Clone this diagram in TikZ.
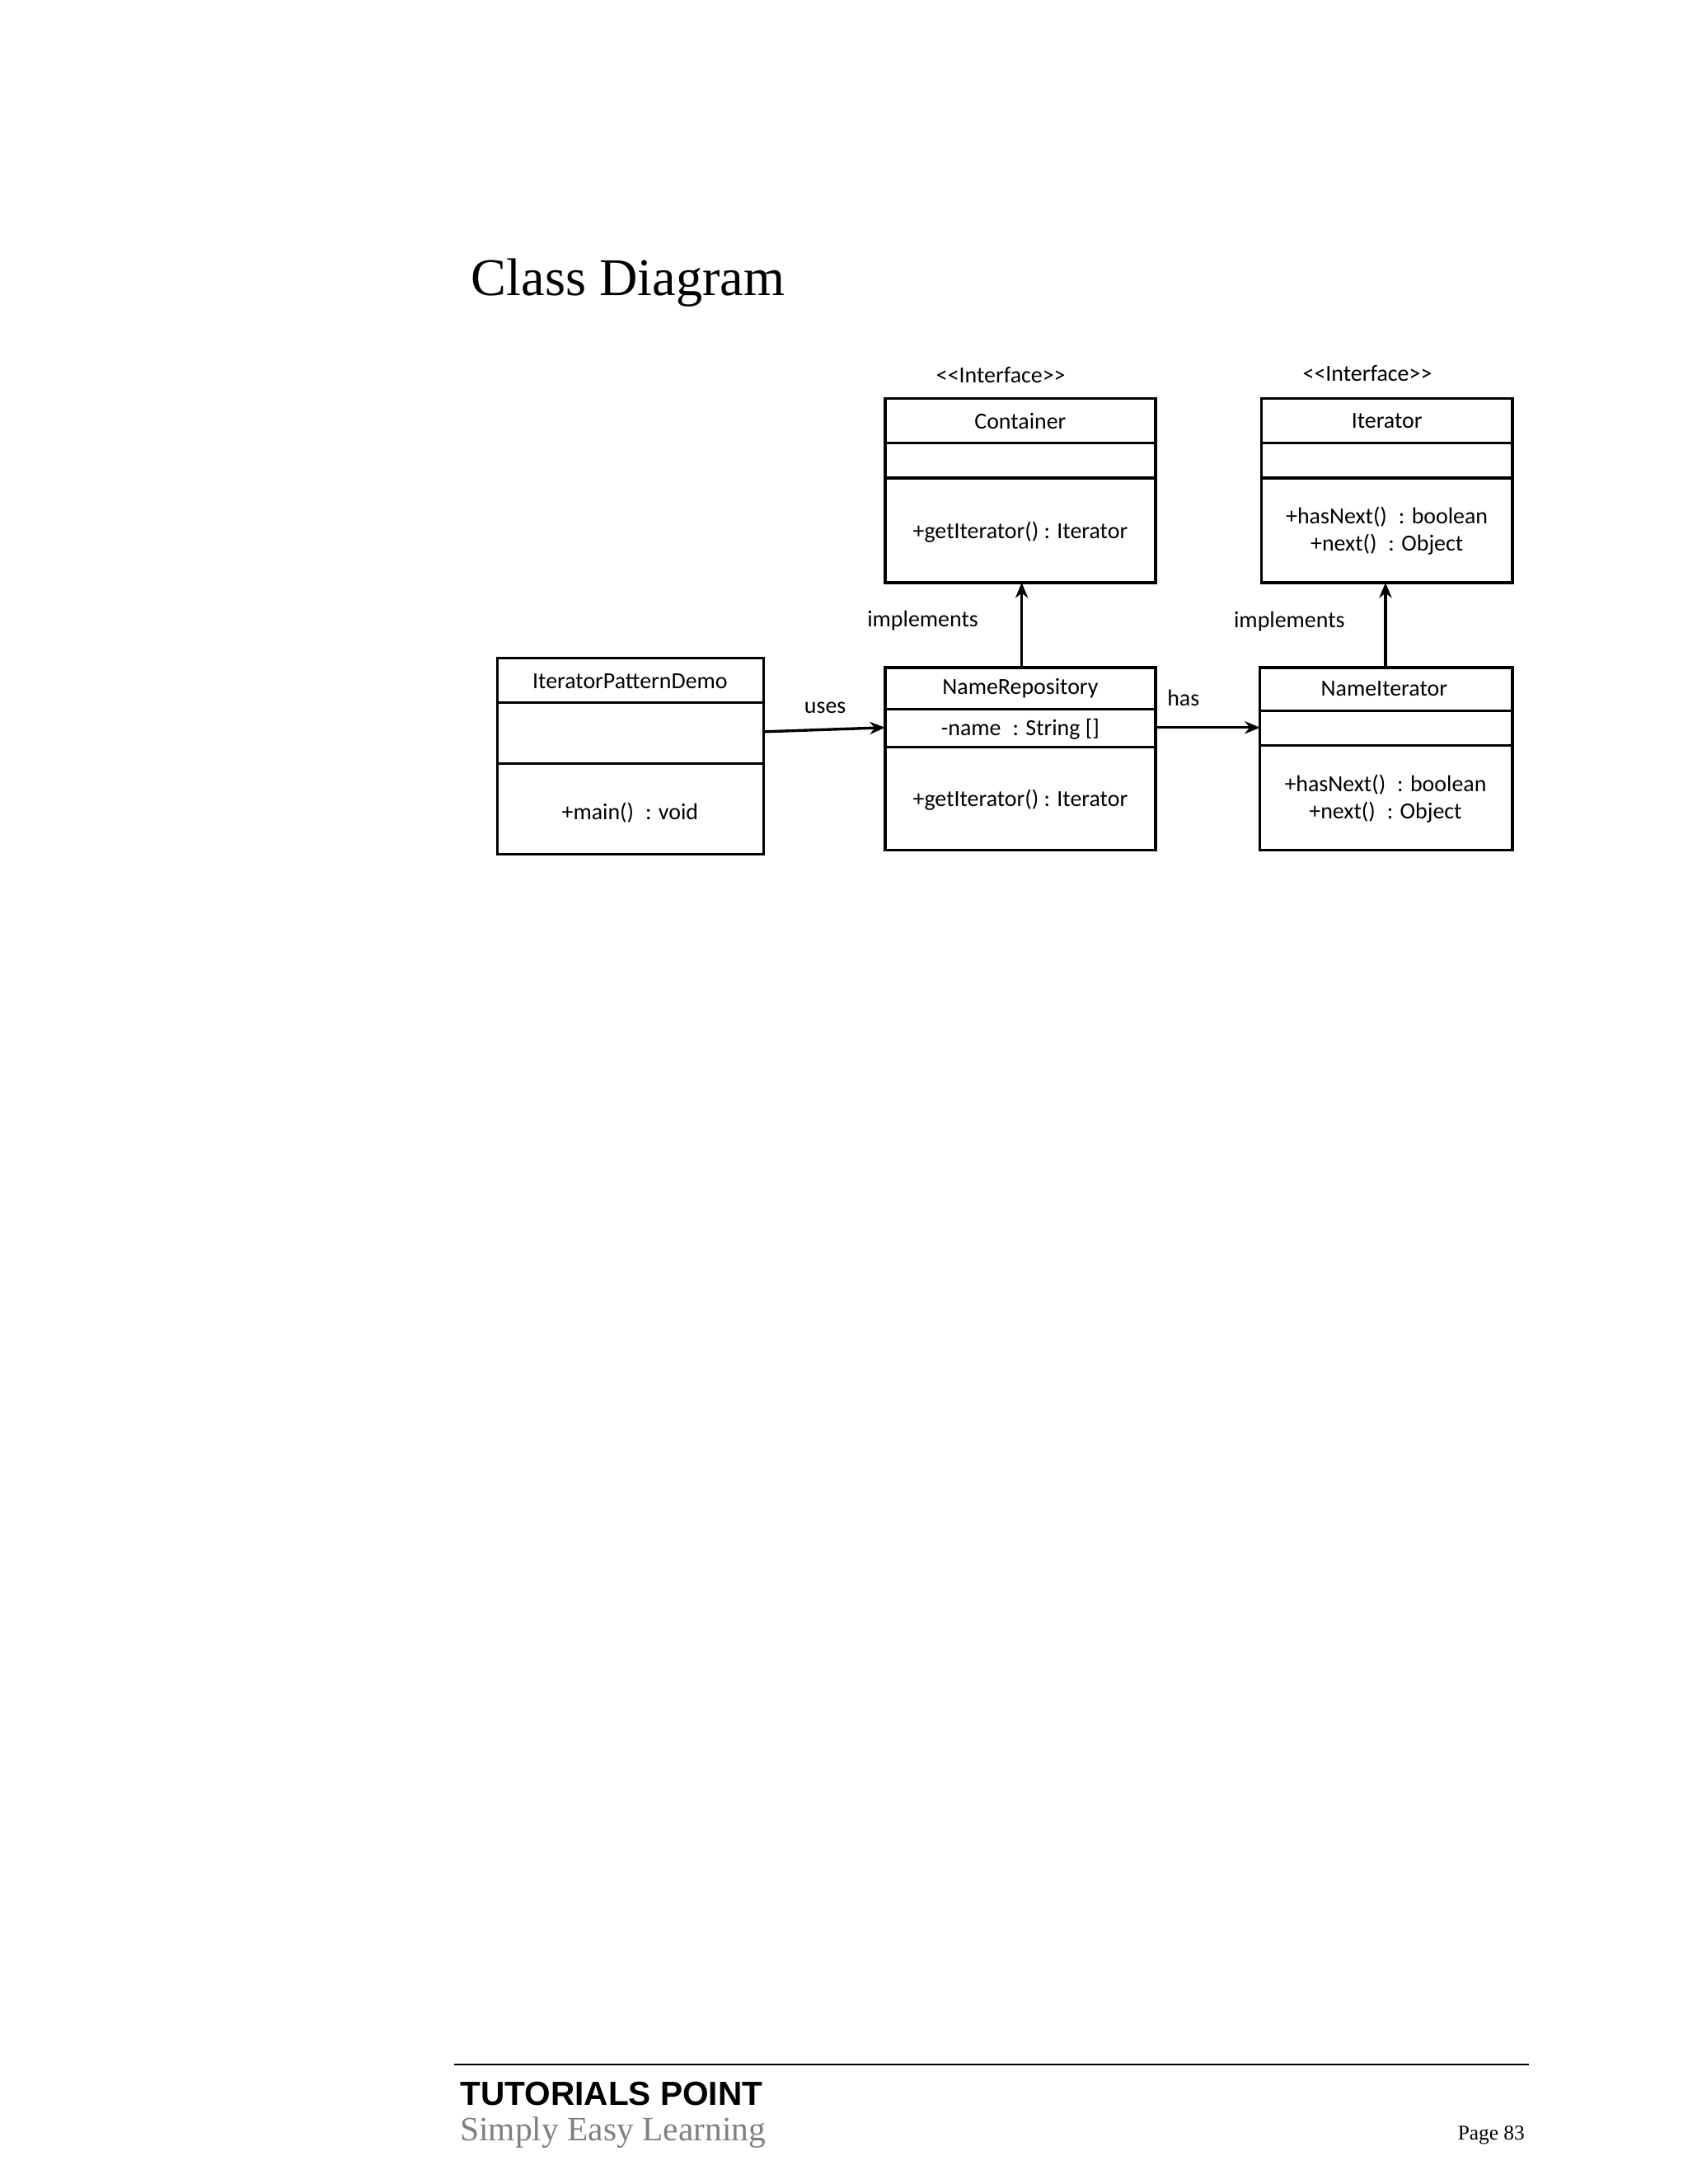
\documentclass[tikz,border=0pt]{standalone}
\usepackage{fontspec}
\setmainfont{Liberation Serif}
\newfontfamily\uml{Carlito}
\newfontfamily\hsans{Liberation Sans}
\usetikzlibrary{arrows.meta}
\begin{document}
\begin{tikzpicture}[x=1pt,y=-1pt,
  box/.style={draw,line width=2pt},
  lbl/.style={font=\uml\fontsize{16.5}{19.5}\selectfont,inner sep=0pt},
  conn/.style={line width=2pt,-{Stealth[length=11pt,width=9pt]}}]
\useasboundingbox[fill=white] (0,0) rectangle (1211,1567);
\node[anchor=west,inner sep=0pt,font=\fontsize{38}{44}\selectfont] (title) at (338,203) {Class Diagram};
% Container
\draw[box] (635,286) rectangle (829,418);
\draw[line width=2pt] (635,318)--(829,318) (635,343)--(829,343);
\node[lbl] (cstereo) at (718,269) {<<Interface>>};
\node[lbl] (cname) at (732,302) {Container};
\node[lbl] (cop) at (732,382) {+getIterator() : Iterator};
\coordinate (cbot) at (733,418);
% Iterator
\draw[box] (905,286) rectangle (1085,418);
\draw[line width=2pt] (905,318)--(1085,318) (905,343)--(1085,343);
\node[lbl] (istereo) at (981,268) {<<Interface>>};
\node[lbl] (iname) at (995,302) {Iterator};
\node[lbl,align=center] (iop) at (995,381) {+hasNext()\enspace: boolean\\+next()\enspace: Object};
\coordinate (ibot) at (994,418);
% IteratorPatternDemo
\draw[box] (357,472) rectangle (548,613);
\draw[line width=2pt] (357,504)--(548,504) (357,548)--(548,548);
\node[lbl] (dname) at (452,489) {IteratorPatternDemo};
\node[lbl] (dop) at (452,583) {+main()\enspace: void};
\coordinate (dright) at (548,525);
% NameRepository
\draw[box] (635,479) rectangle (829,610);
\draw[line width=2pt] (635,509)--(829,509) (635,536)--(829,536);
\node[lbl] (rname) at (732,494) {NameRepository};
\node[lbl] (rattr) at (732,523) {-name\enspace: String []};
\node[lbl] (rop) at (732,574) {+getIterator() : Iterator};
\coordinate (rtop) at (733,479);
\coordinate (rleft) at (635,522);
\coordinate (rright) at (829,522);
% NameIterator
\draw[box] (904,479) rectangle (1085,610);
\draw[line width=2pt] (904,510)--(1085,510) (904,535)--(1085,535);
\node[lbl] (nname) at (993,494) {NameIterator};
\node[lbl,align=center] (nop) at (994,573) {+hasNext()\enspace: boolean\\+next()\enspace: Object};
\coordinate (ntop) at (994,479);
\coordinate (nleft) at (904,522);
% connectors
\draw[conn] (dright)--(rleft);
\node[lbl] (uses) at (592,508) {uses};
\draw[conn] (rright)--(nleft);
\node[lbl] (has) at (849,501) {has};
\draw[conn] (rtop)--(cbot);
\node[lbl] (impl1) at (662,445) {implements};
\draw[conn] (ntop)--(ibot);
\node[lbl] (impl2) at (925,446) {implements};
% footer
\draw[line width=1.2pt] (326,1481)--(1097,1481);
\node[anchor=west,inner sep=0pt,font=\hsans\bfseries\fontsize{24}{28}\selectfont] (tp) at (330,1502) {TUTORIALS POINT};
\node[anchor=west,inner sep=0pt,text=gray,font=\fontsize{24.5}{28}\selectfont] (sel) at (330,1530) {Simply Easy Learning};
\node[anchor=east,inner sep=0pt,font=\fontsize{15}{17}\selectfont] (pg) at (1094,1532) {Page 83};
\end{tikzpicture}
\end{document}
